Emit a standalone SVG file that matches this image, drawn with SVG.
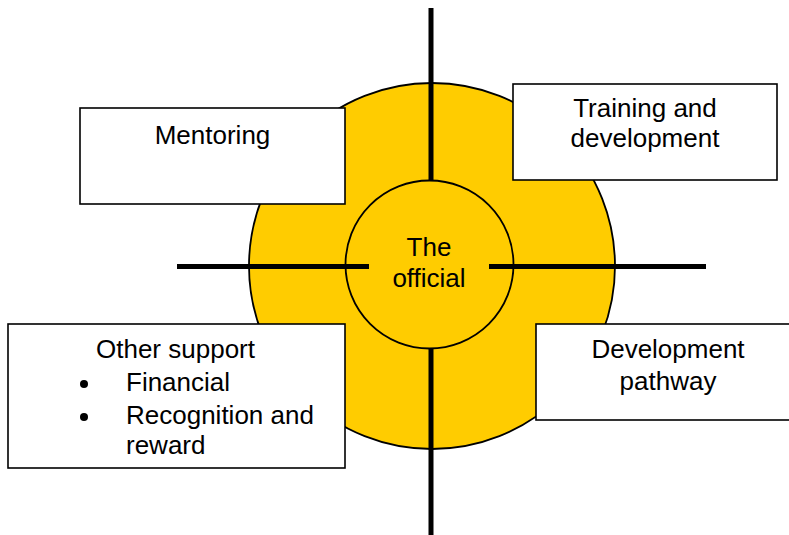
<svg xmlns="http://www.w3.org/2000/svg" width="789" height="535" viewBox="0 0 789 535">
  <style>
    .disc { fill: #FFCC00; stroke: #000; stroke-width: 1.8; }
    .axis { stroke: #000; stroke-width: 5; fill: none; }
    .box { fill: #FFFFFF; stroke: #000; stroke-width: 1.6; }
    .label { font-family: "Liberation Sans", Arial, sans-serif; font-size: 26px; fill: #000; }
    .mid { text-anchor: middle; }
  </style>
  <rect width="789" height="535" fill="#FFFFFF"/>

  <!-- outer yellow disc -->
  <g id="outer-disc">
    <circle class="disc" cx="432" cy="266" r="183"/>
  </g>

  <!-- inner circle sits under the cross lines -->
  <g id="centre">
    <circle class="disc" cx="429.5" cy="264.5" r="84"/>
    <text class="label mid" x="429" y="256">The</text>
    <text class="label mid" x="429" y="287">official</text>
  </g>

  <!-- cross lines; the horizontal arms reach into the inner circle -->
  <g id="connectors">
    <line class="axis" x1="431" y1="8" x2="431" y2="181"/>
    <line class="axis" x1="431" y1="348" x2="431" y2="535"/>
    <line class="axis" x1="177" y1="266.5" x2="369" y2="266.5"/>
    <line class="axis" x1="489" y1="266.5" x2="706" y2="266.5"/>
  </g>

  <g id="mentoring">
    <rect class="box" x="80" y="108" width="265" height="96"/>
    <text class="label mid" x="212.5" y="144">Mentoring</text>
  </g>

  <g id="training">
    <rect class="box" x="513" y="84" width="264" height="96"/>
    <text class="label mid" x="645" y="117">Training and</text>
    <text class="label mid" x="645" y="147">development</text>
  </g>

  <g id="other-support">
    <rect class="box" x="8" y="324" width="337" height="144"/>
    <text class="label" x="96" y="358">Other support</text>
    <circle cx="84" cy="384" r="4"/>
    <text class="label" x="126" y="391">Financial</text>
    <circle cx="84" cy="417" r="4"/>
    <text class="label" x="126" y="424">Recognition and</text>
    <text class="label" x="126" y="454">reward</text>
  </g>

  <g id="pathway">
    <rect class="box" x="536" y="324" width="264" height="96"/>
    <text class="label mid" x="668" y="358">Development</text>
    <text class="label mid" x="668" y="390">pathway</text>
  </g>
</svg>
